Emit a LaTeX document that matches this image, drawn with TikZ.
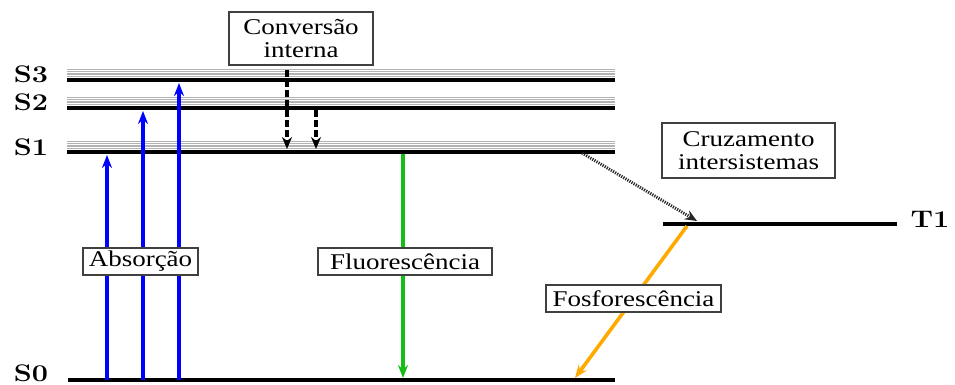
\documentclass[tikz,border=0pt]{standalone}
\usepackage{fontspec}
\usepackage{graphicx}
\newfontfamily\boxfont[FakeStretch=1.2]{Liberation Serif}
\usetikzlibrary{arrows.meta}
\definecolor{absblue}{RGB}{0,0,255}
\definecolor{flgreen}{RGB}{20,190,20}
\definecolor{fosorange}{RGB}{255,170,0}
\tikzset{
  levelline/.style={line width=4.2pt},
  bandline/.style={gray!60, line width=0.9pt},
  lvllabel/.style={font=\bfseries\fontsize{24}{24}\selectfont, inner sep=0pt},
  labelbox/.style={draw=black!75, line width=1.3pt, fill=white,
    font=\boxfont\fontsize{22.5}{23}\selectfont, align=center, inner sep=0pt},
  absarrow/.style={absblue, line width=3.6pt, -{Stealth[length=13pt,width=10pt]}},
  icarrow/.style={black, line width=3.4pt, dash pattern=on 7pt off 3pt, -{Stealth[length=12pt,width=10pt]}},
  flarrow/.style={flgreen, line width=3.6pt, -{Stealth[length=13pt,width=10pt]}},
  iscarrow/.style={black!85, line width=3pt, dash pattern=on 1.2pt off 1.2pt, -{Stealth[length=12pt,width=10pt]}},
  fosarrow/.style={fosorange, line width=3.6pt, -{Stealth[length=13pt,width=10pt]}},
}
\begin{document}
\begin{tikzpicture}[x=1pt,y=-1pt]
\useasboundingbox (0,0) rectangle (955,385);
% level end points
\coordinate (S3l) at (67,80);  \coordinate (S3r) at (615,80);
\coordinate (S2l) at (67,108); \coordinate (S2r) at (615,108);
\coordinate (S1l) at (67,152); \coordinate (S1r) at (615,152);
\coordinate (S0l) at (68,380); \coordinate (S0r) at (615,380);
\coordinate (T1l) at (663,224); \coordinate (T1r) at (897,224);
% vibrational bands
\foreach \lv in {S3,S2,S1}{
  \foreach \d in {3.6,5.3,7.0,8.7,10.4}{
    \draw[bandline] ([yshift=\d pt]\lv l) -- ([yshift=\d pt]\lv r);
  }
  \draw[levelline] (\lv l) -- (\lv r);
}
\draw[levelline] (S0l) -- (S0r);
\draw[levelline] (T1l) -- (T1r);
% level labels
\node[lvllabel] (lS3) at (31,74) {\scalebox{1.2}[1]{S3}};
\node[lvllabel] (lS2) at (31,102) {\scalebox{1.2}[1]{S2}};
\node[lvllabel] (lS1) at (31,147) {\scalebox{1.2}[1]{S1}};
\node[lvllabel] (lS0) at (31,373) {\scalebox{1.2}[1]{S0}};
\node[lvllabel] (lT1) at (930,219) {\scalebox{1.2}[1]{T1}};
% absorption
\coordinate (a1s) at (107,380); \coordinate (a1e) at (107,155);
\coordinate (a2s) at (143,380); \coordinate (a2e) at (143,111);
\coordinate (a3s) at (179,380); \coordinate (a3e) at (179,83);
\draw[absarrow] (a1s) -- (a1e);
\draw[absarrow] (a2s) -- (a2e);
\draw[absarrow] (a3s) -- (a3e);
% internal conversion
\coordinate (c1s) at (287,70);  \coordinate (c1e) at (287,149);
\coordinate (c2s) at (316,110); \coordinate (c2e) at (316,149);
\draw[icarrow] (c1s) -- (c1e);
\draw[icarrow] (c2s) -- (c2e);
% fluorescence
\coordinate (fs) at (403,154); \coordinate (fe) at (403,378);
\draw[flarrow] (fs) -- (fe);
% intersystem crossing
\coordinate (is) at (582,153); \coordinate (ie) at (697,221);
\draw[iscarrow] (is) -- (ie);
% phosphorescence
\coordinate (ps) at (687,226); \coordinate (pe) at (575,378);
\draw[fosarrow] (ps) -- (pe);
% label boxes
\node[labelbox, minimum width=144pt, minimum height=53pt] (conv) at (301,38.5) {Conversão\\interna};
\node[labelbox, minimum width=173pt, minimum height=55pt] (cruz) at (748.5,150.5) {Cruzamento\\intersistemas};
\node[labelbox, minimum width=115pt, minimum height=27pt] (abs) at (140.5,261.5) {Absorção};
\node[labelbox, minimum width=174pt, minimum height=27pt] (fluo) at (405,261.5) {Fluorescência};
\node[labelbox, minimum width=175pt, minimum height=27pt] (fosf) at (633.5,298.5) {Fosforescência};
\end{tikzpicture}
\end{document}
